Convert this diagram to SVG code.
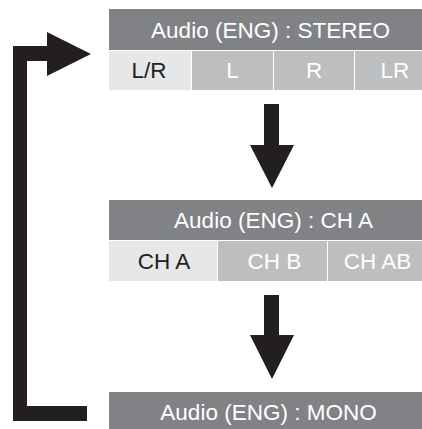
<svg xmlns="http://www.w3.org/2000/svg" width="422" height="429" viewBox="0 0 422 429">
<style>
.hdr{fill:#808285}
.sel{fill:#e6e7e8}
.opt{fill:#bcbec0}
.arr{fill:#231f20}
text{font-family:"Liberation Sans",Arial,sans-serif;font-size:22.5px;text-anchor:middle}
.wt{fill:#ffffff}
.dk{fill:#231f20}
</style>
<rect width="422" height="429" fill="#ffffff"/>
<g id="connectors">
<path class="arr" d="M13,421 L13,46 L47,46 L47,32 L91,54 L47,76 L47,61 L27,61 L27,406 L87,406 L87,421 Z"/>
<path class="arr" d="M264,104 L279,104 L279,145 L294,145 L272,188 L250,145 L264,145 Z"/>
<path class="arr" d="M264,295 L279,295 L279,335 L294,335 L272,379 L250,335 L264,335 Z"/>
</g>
<g id="stereo">
<rect class="hdr" x="109" y="9" width="327" height="41"/>
<text class="wt" x="270.5" y="38">Audio (ENG) : STEREO</text>
<rect class="sel" x="109" y="51" width="82" height="39"/>
<rect class="opt" x="192" y="51" width="81" height="39"/>
<rect class="opt" x="274" y="51" width="80" height="39"/>
<rect class="opt" x="355" y="51" width="81" height="39"/>
<text class="dk" x="149" y="78">L/R</text>
<text class="wt" x="232.5" y="78">L</text>
<text class="wt" x="314" y="78">R</text>
<text class="wt" x="395" y="78">LR</text>
</g>
<g id="cha">
<rect class="hdr" x="109" y="200" width="327" height="40"/>
<text class="wt" x="273.5" y="228">Audio (ENG) : CH A</text>
<rect class="sel" x="109" y="241" width="108" height="40"/>
<rect class="opt" x="218" y="241" width="109" height="40"/>
<rect class="opt" x="328" y="241" width="108" height="40"/>
<text class="dk" x="164" y="269">CH A</text>
<text class="wt" x="274.5" y="269">CH B</text>
<text class="wt" x="377.5" y="269">CH AB</text>
</g>
<g id="mono">
<rect class="hdr" x="109" y="392" width="327" height="41"/>
<text class="wt" x="268.5" y="420">Audio (ENG) : MONO</text>
</g>
</svg>
